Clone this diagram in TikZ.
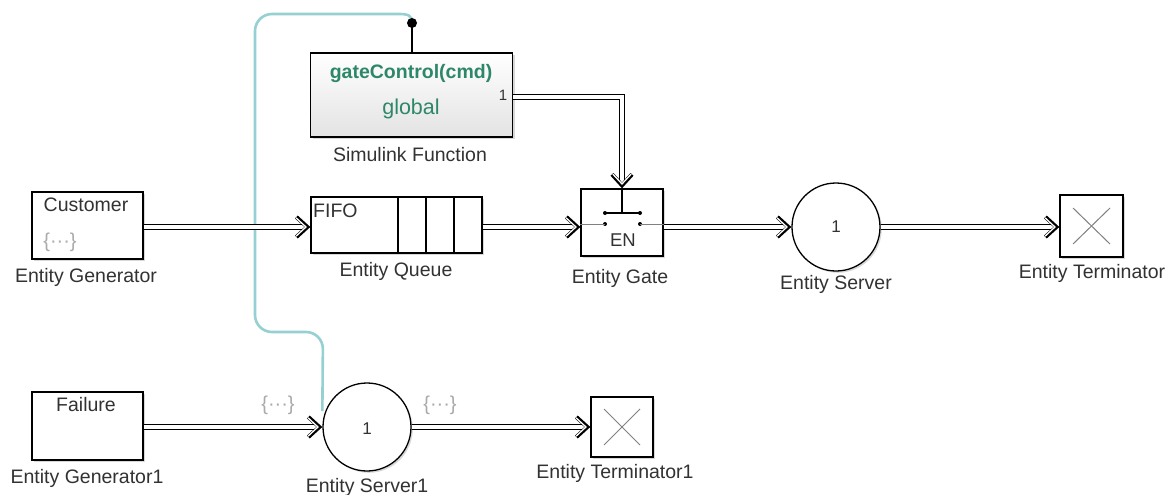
\documentclass[tikz,border=0pt]{standalone}
\usepackage{fontspec}
\setmainfont{Liberation Sans}
\usetikzlibrary{shadows,calc}
\definecolor{sfgreen}{RGB}{45,135,105}
\definecolor{wirec}{RGB}{150,208,210}
\definecolor{lbl}{RGB}{50,50,50}
\definecolor{ghost}{RGB}{170,170,170}
\tikzset{
  blk/.style={draw=black, line width=1.3pt, fill=white, inner sep=0pt,
    drop shadow={shadow xshift=1.8pt, shadow yshift=-1.8pt, opacity=0.3}},
  txt/.style={inner sep=0pt, text=lbl, font=\fontsize{19.5}{21}\selectfont},
  ghosttxt/.style={inner sep=0pt, text=ghost, font=\fontsize{20}{22}\selectfont},
  conn/.style={draw=black, double=white, double distance=3.6pt, line width=1.3pt, line join=miter},
  chevr/.pic={
    \draw[line width=4pt, line join=miter, line cap=butt] (-14,-10) -- (-3,0) -- (-14,10);
    \draw[white, line width=1.3pt, line join=miter] (-14.3,-9.2) -- (-4.4,0) -- (-14.3,9.2);
  },
  chevd/.pic={
    \draw[line width=4pt, line join=miter, line cap=butt] (-10,-14) -- (0,-3) -- (10,-14);
    \draw[white, line width=1.3pt, line join=miter] (-9.2,-14.3) -- (0,-4.4) -- (9.2,-14.3);
  },
  greyln/.style={draw=black!50, line width=1pt}
}
\begin{document}
\begin{tikzpicture}[x=1pt,y=-1pt]
\useasboundingbox[fill=white] (0,0) rectangle (1175,495);
\coordinate (row1) at (0,227);
\coordinate (row2) at (0,427);

% Simulink Function
\node[blk, top color=white, bottom color=black!11, minimum width=202pt, minimum height=84pt] (sf) at (411.7,95) {};
\node[inner sep=0pt, text=sfgreen, font=\fontsize{19.5}{21}\selectfont\bfseries] (sfname) at (411,74) {gateControl(cmd)};
\node[inner sep=0pt, text=sfgreen, font=\fontsize{21.5}{23}\selectfont] (sfglob) at (411,109) {global};
\node[inner sep=0pt, text=lbl, font=\fontsize{15}{17}\selectfont] (sfport) at (503,95) {1};
\node[txt] (sflbl) at (410,155) {Simulink Function};

% Entity Generator
\node[blk, minimum width=111pt, minimum height=67pt] (gen) at (87.5,225.5) {};
\node[txt] (gentxt) at (86,205) {Customer};
\node[ghosttxt] (genic) at (60,242) {\{···\}};
\node[txt] (genlbl) at (86,277) {Entity Generator};

% Entity Queue
\node[blk, minimum width=171pt, minimum height=56pt] (queue) at (396.5,225) {};
\draw[line width=1.3pt] (398,197) -- (398,253);
\draw[line width=1.3pt] (426,197) -- (426,253);
\draw[line width=1.3pt] (454,197) -- (454,253);
\node[txt, anchor=west] (fifo) at (313,211) {FIFO};
\node[txt] (queuelbl) at (396,271) {Entity Queue};

% Entity Gate
\node[blk, minimum width=82pt, minimum height=67pt] (gate) at (622,222.5) {};
\draw[line width=1.1pt] (622,189) -- (622,213);
\draw[line width=1.1pt] (605,213) -- (640,213);
\fill (605,213) circle (2pt) (640,213) circle (2pt) (605,224) circle (2pt) (640,224) circle (2pt);
\draw[greyln] (gate.west |- 0,224) -- (605,224);
\draw[greyln] (640,224) -- (gate.east |- 0,224);
\node[txt, font=\fontsize{18.5}{20}\selectfont] (en) at (623,240) {EN};
\node[txt] (gatelbl) at (620,278) {Entity Gate};

% Entity Server
\node[blk, circle, minimum size=88pt] (server) at (836,227) {};
\node[txt, font=\fontsize{17}{19}\selectfont] (servtxt) at (836,227) {1};
\node[txt] (servlbl) at (836,284) {Entity Server};

% Entity Terminator
\node[blk, minimum width=63pt, minimum height=62pt] (term) at (1091.5,226) {};
\draw[greyln] (1073,208) -- (1110,244);
\draw[greyln] (1073,244) -- (1110,208);
\node[txt] (termlbl) at (1092,273) {Entity Terminator};

% Entity Generator1
\node[blk, minimum width=111pt, minimum height=68pt] (gen1) at (87.5,426) {};
\node[txt] (gen1txt) at (86,405) {Failure};
\node[txt] (gen1lbl) at (87,478) {Entity Generator1};

% Entity Server1
\node[blk, circle, minimum size=88pt] (server1) at (367,427) {};
\node[txt, font=\fontsize{17}{19}\selectfont] (serv1txt) at (367,429) {1};
\node[txt] (serv1lbl) at (367,487) {Entity Server1};
\node[ghosttxt] (in1ic) at (278,405) {\{···\}};
\node[ghosttxt] (out1ic) at (440,405) {\{···\}};

% Entity Terminator1
\node[blk, minimum width=62pt, minimum height=60pt] (term1) at (622,427) {};
\draw[greyln] (604,409) -- (640,445);
\draw[greyln] (604,445) -- (640,409);
\node[txt] (term1lbl) at (615,473) {Entity Terminator1};

% function-call wire
\coordinate (dot) at (412,23);
\coordinate (cyanend) at (server1.west |- 0,411);
\draw[wirec, line width=2.6pt] (dot) .. controls (412,15) and (408,14) .. (398,14)
  [rounded corners=17pt] -- (255,14) -- (255,332) -- (323,332) -- (cyanend);
\draw[line width=1.5pt] (dot) -- (dot |- sf.north);
\fill (dot) circle (5pt);

% entity connections
\draw[conn] (gen.east |- row1) -- ($(queue.west |- row1)+(-6,0)$);
\pic at (queue.west |- row1) {chevr};
\draw[conn] (queue.east |- row1) -- ($(gate.west |- row1)+(-6,0)$);
\pic at (gate.west |- row1) {chevr};
\draw[conn] (gate.east |- row1) -- ($(server.west)+(-6,0)$);
\pic at (server.west) {chevr};
\draw[conn] (server.east) -- ($(term.west |- row1)+(-6,0)$);
\pic at (term.west |- row1) {chevr};
\draw[conn] (gen1.east |- row2) -- ($(server1.west)+(-6,0)$);
\pic at (server1.west) {chevr};
\draw[conn] (server1.east) -- ($(term1.west)+(-6,0)$);
\pic at (term1.west) {chevr};
\coordinate (sfout) at ($(sf.east)+(0,2)$);
\draw[conn] (sfout) -| ($(gate.north)+(0,-6)$);
\pic at (gate.north) {chevd};
\end{tikzpicture}
\end{document}
